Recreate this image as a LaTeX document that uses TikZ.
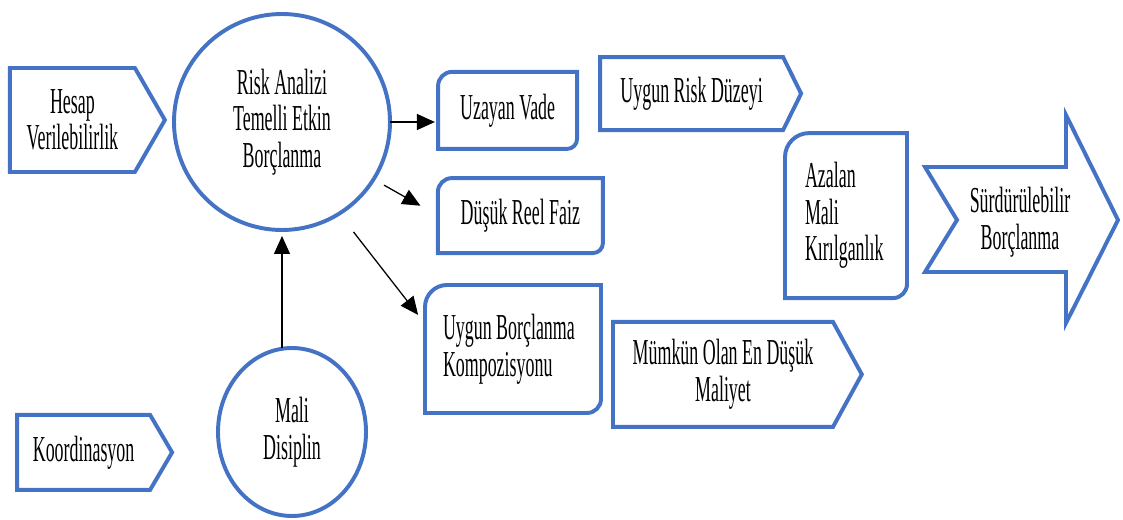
\documentclass[tikz,border=0pt]{standalone}
\usepackage{fontspec}
\setmainfont[FakeStretch=0.49]{Liberation Serif}
\usepackage{tikz}
\usetikzlibrary{shapes,arrows.meta,calc}

\definecolor{boxblue}{HTML}{4472C4}

\newcommand{\pentbox}[2]{\draw[blueline] (#1.south west) -- (#1.north west) -- (#1.north east) -- ([xshift=#2]#1.east) -- (#1.south east) -- cycle;}
\newcommand{\roundbox}[3]{\draw[blueline] (#1.south west) -- ([yshift=-#2]#1.north west) arc[start angle=180,end angle=90,radius=#2] -- (#1.north east) -- ([yshift=#3]#1.south east) arc[start angle=0,end angle=-90,radius=#3] -- cycle;}

\tikzset{
  blueline/.style={draw=boxblue, line width=2.8pt},
  txt/.style={font=\fontsize{26}{26}\selectfont, align=center, inner sep=0pt, outer sep=0pt},
  conn/.style={line width=0.9pt, -{Triangle[length=0.45cm,width=0.4cm]}}
}

\begin{document}
\begin{tikzpicture}
  \useasboundingbox (0,0) rectangle (28.075,-13);

  \node[txt, minimum width=3.125cm, minimum height=2.6cm] (hesap) at (1.81,-3.0) {Hesap\\Verilebilirlik};
  \pentbox{hesap}{0.75cm}
  \node[txt, minimum width=3.325cm, minimum height=1.875cm] (koord) at (2.09,-11.31) {Koordinasyon};
  \pentbox{koord}{0.55cm}

  \node[txt, ellipse, blueline, minimum width=5.4cm, minimum height=5.4cm] (risk) at (7.05,-3.05) {Risk Analizi\\Temelli Etkin\\Borçlanma};
  \node[txt, ellipse, blueline, minimum width=3.7cm, minimum height=4.2cm] (disiplin) at (7.3,-10.8) {Mali\\Disiplin};

  \node[txt, minimum width=3.475cm, minimum height=1.925cm] (uzayan) at (12.69,-2.76) {Uzayan Vade};
  \roundbox{uzayan}{0.35cm}{0.25cm}
  \node[txt, minimum width=4.125cm, minimum height=1.875cm] (dusuk) at (13.01,-5.39) {Düşük Reel Faiz};
  \roundbox{dusuk}{0.35cm}{0.25cm}
  \node[txt, align=flush left, text width=3.5cm, inner xsep=0.45cm, minimum width=4.4cm, minimum height=3.2cm] (uygun) at (12.825,-8.725) {Uygun Borçlanma\\Kompozisyonu};
  \roundbox{uygun}{0.55cm}{0.35cm}

  \node[txt, minimum width=4.575cm, minimum height=1.825cm] (riskduz) at (17.29,-2.34) {Uygun Risk Düzeyi};
  \pentbox{riskduz}{0.45cm}
  \node[txt, minimum width=5.5cm, minimum height=2.625cm] (mumkun) at (18.075,-9.36) {Mümkün Olan En Düşük\\Maliyet};
  \pentbox{mumkun}{0.72cm}

  \node[txt, align=flush left, text width=2.05cm, inner xsep=0.5cm, minimum width=3.05cm, minimum height=4.125cm] (azalan) at (21.15,-5.39) {Azalan\\Mali\\Kırılganlık};
  \roundbox{azalan}{0.6cm}{0.35cm}

  \node[txt] (surd) at (25.5,-5.55) {Sürdürülebilir\\Borçlanma};
  \begin{scope}[shift={(surd.center)}]
    \draw[blueline] (-2.375,1.375) -- (1.15,1.375) -- (1.15,2.675) -- (2.45,0.05) -- (1.15,-2.525) -- (1.15,-1.25) -- (-2.375,-1.25) -- (-1.575,0.05) -- cycle;
  \end{scope}

  \draw[conn, shorten >=0.08cm] (risk.east) -- (risk.east -| uzayan.west);
  \draw[conn, shorten <=0.3cm, shorten >=0.5cm] (risk.-32) -- (dusuk.west);
  \draw[conn, shorten <=0.58cm, shorten >=0.28cm] (risk.-58) -- (uygun.164);
  \draw[conn, shorten >=0.15cm] (disiplin.north -| risk.south) -- (risk.south);
\end{tikzpicture}
\end{document}
